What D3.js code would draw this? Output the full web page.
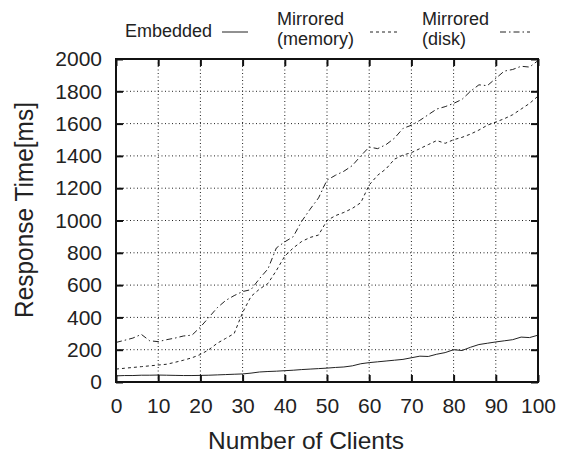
<!DOCTYPE html>
<html><head><meta charset="utf-8">
<script src="https://cdn.jsdelivr.net/npm/d3@7"></script>
<style>body{margin:0;background:#fff}svg{display:block}text{font-family:"Liberation Sans",Arial,sans-serif;fill:#222}</style>
</head><body><svg id="c" width="561" height="453"></svg>
<script>
const clients = [0,2,4,6,8,10,12,14,16,18,20,22,24,26,28,30,32,34,36,38,40,42,44,46,48,50,52,54,56,58,60,62,64,66,68,70,72,74,76,78,80,82,84,86,88,90,92,94,96,98,100];
const embedded = [38,40,40,42,42,43,42,41,40,40,41,42,44,46,48,50,55,62,65,67,70,73,77,80,83,86,90,93,100,113,120,125,130,135,140,150,160,158,172,182,200,195,215,232,240,248,255,262,278,275,290];
const mirroredMemory = [80,85,90,95,100,105,110,122,135,150,170,200,240,270,300,430,530,575,610,690,780,830,870,895,910,1000,1030,1050,1075,1110,1220,1280,1320,1380,1405,1420,1445,1470,1495,1478,1500,1515,1535,1560,1590,1610,1630,1655,1690,1725,1770];
const mirroredDisk = [245,258,272,295,255,250,262,272,285,290,340,400,460,505,535,560,572,640,700,830,868,900,995,1070,1140,1250,1280,1305,1340,1400,1455,1445,1470,1510,1570,1590,1620,1655,1690,1705,1725,1750,1800,1840,1835,1880,1925,1935,1955,1950,1990];
const xTicks = [0,10,20,30,40,50,60,70,80,90,100];
const yTicks = [0,200,400,600,800,1000,1200,1400,1600,1800,2000];
const seriesNames = ["Embedded","Mirrored (memory)","Mirrored (disk)"];

const svg = d3.select("#c");
const L=116,R=538,T=59,B=382;
const x = d3.scaleLinear().domain([0,100]).range([L,R]);
const y = d3.scaleLinear().domain([0,2000]).range([B,T]);

// grid
const g = svg.append("g");
g.selectAll(".vg").data(xTicks.slice(1,-1)).join("line")
  .attr("x1",d=>x(d)).attr("x2",d=>x(d)).attr("y1",T).attr("y2",B)
  .attr("stroke","#222").attr("stroke-width",1).attr("stroke-dasharray","1,2.5");
g.selectAll(".hg").data(yTicks.slice(1,-1)).join("line")
  .attr("y1",d=>y(d)).attr("y2",d=>y(d)).attr("x1",L).attr("x2",R)
  .attr("stroke","#222").attr("stroke-width",1).attr("stroke-dasharray","1,2.5");

// lines
const series = [
  {vals:embedded, dash:null},
  {vals:mirroredMemory, dash:"3,3"},
  {vals:mirroredDisk, dash:"6,3,1.5,3"}
];
const line = d3.line().x((d,i)=>x(clients[i])).y(d=>y(d));
series.forEach(s=>{
  svg.append("path").attr("d",line(s.vals)).attr("fill","none")
    .attr("stroke","#222").attr("stroke-width",1)
    .attr("stroke-dasharray",s.dash);
});

// axes (ticks inward on all sides)
const tl = 7;
const fontFam = "Liberation Sans, Arial, sans-serif";
svg.append("g").attr("transform",`translate(0,${B})`)
  .call(d3.axisBottom(x).tickValues(xTicks).tickSize(-tl).tickPadding(16).tickFormat(d3.format("d")))
  .call(a=>{a.select(".domain").remove();a.selectAll("line").attr("stroke","#111").attr("stroke-width",2);
    a.selectAll("text").attr("font-size",21).attr("fill","#222").attr("font-family",fontFam);});
svg.append("g").attr("transform",`translate(0,${T})`)
  .call(d3.axisTop(x).tickValues(xTicks).tickSize(-tl).tickFormat(""))
  .call(a=>{a.select(".domain").remove();a.selectAll("line").attr("stroke","#111").attr("stroke-width",2);});
svg.append("g").attr("transform",`translate(${L},0)`)
  .call(d3.axisLeft(y).tickValues(yTicks).tickSize(-tl).tickPadding(14).tickFormat(d3.format("d")))
  .call(a=>{a.select(".domain").remove();a.selectAll("line").attr("stroke","#111").attr("stroke-width",2);
    a.selectAll("text").attr("font-size",21).attr("fill","#222").attr("font-family",fontFam);});
svg.append("g").attr("transform",`translate(${R},0)`)
  .call(d3.axisRight(y).tickValues(yTicks).tickSize(-tl).tickFormat(""))
  .call(a=>{a.select(".domain").remove();a.selectAll("line").attr("stroke","#111").attr("stroke-width",2);});

// frame
svg.append("rect").attr("x",L).attr("y",T).attr("width",R-L).attr("height",B-T)
  .attr("fill","none").attr("stroke","#111").attr("stroke-width",2);

// titles
svg.append("text").attr("x",306).attr("y",449).attr("text-anchor","middle").attr("font-size",24)
  .attr("textLength",196).attr("lengthAdjust","spacingAndGlyphs").text("Number of Clients");
svg.append("text").attr("transform","translate(33,210) rotate(-90)").attr("text-anchor","middle").attr("font-size",25)
  .attr("textLength",216).attr("lengthAdjust","spacingAndGlyphs").text("Response Time[ms]");

// legend
const lg = svg.append("g").attr("font-size",18);
lg.append("text").attr("x",125).attr("y",37).text(seriesNames[0]);
lg.append("line").attr("x1",222).attr("x2",248).attr("y1",32).attr("y2",32).attr("stroke","#222");
const m1 = seriesNames[1].split(" ");
lg.append("text").attr("x",277).attr("y",25).text(m1[0]);
lg.append("text").attr("x",277).attr("y",45).text(m1[1]);
lg.append("line").attr("x1",370).attr("x2",398).attr("y1",32).attr("y2",32).attr("stroke","#222").attr("stroke-dasharray","3,3");
const m2 = seriesNames[2].split(" ");
lg.append("text").attr("x",422).attr("y",25).text(m2[0]);
lg.append("text").attr("x",422).attr("y",45).text(m2[1]);
lg.append("line").attr("x1",500).attr("x2",530).attr("y1",32).attr("y2",32).attr("stroke","#222").attr("stroke-dasharray","6,3,1.5,3");
</script></body></html>
